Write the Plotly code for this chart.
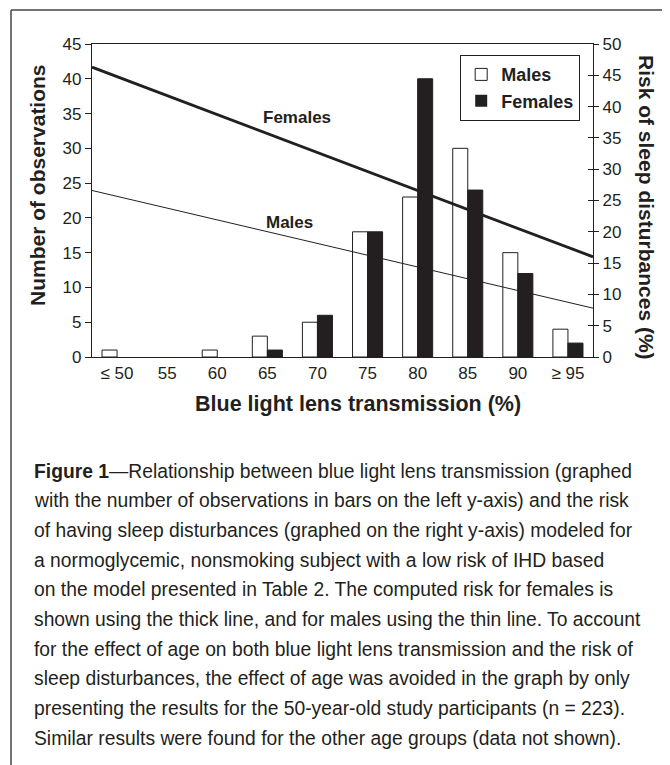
import plotly.graph_objects as go

# ---- data ----
transmission = [50, 55, 60, 65, 70, 75, 80, 85, 90, 95]
tick_labels = ["≤ 50", "55", "60", "65", "70", "75", "80", "85", "90", "≥ 95"]
males_obs = [1, 0, 1, 3, 5, 18, 23, 30, 15, 4]
females_obs = [0, 0, 0, 1, 6, 18, 40, 24, 12, 2]
risk_x = [47.5, 97.5]
risk_females = [46.3, 16.0]
risk_males = [26.6, 7.8]

caption_lines = [
    "<b>Figure 1</b>—Relationship between blue light lens transmission (graphed",
    "with the number of observations in bars on the left y-axis) and the risk",
    "of having sleep disturbances (graphed on the right y-axis) modeled for",
    "a normoglycemic, nonsmoking subject with a low risk of IHD based",
    "on the model presented in Table 2. The computed risk for females is",
    "shown using the thick line, and for males using the thin line. To account",
    "for the effect of age on both blue light lens transmission and the risk of",
    "sleep disturbances, the effect of age was avoided in the graph by only",
    "presenting the results for the 50-year-old study participants (n = 223).",
    "Similar results were found for the other age groups (data not shown).",
]

FONT = "Liberation Sans Narrow, Arial Narrow, Liberation Sans, Arial, sans-serif"
INK = "#231f20"

OFF = 8  # page body margin
W, H = 670 - OFF, 765 - OFF
L, R, T, B = 92, 593, 44, 357  # plot area in reference pixels


def xp(px):
    return (px - L) / (R - L)


def yp(py):
    return (B - py) / (B - T)


def edge_widths(vals):
    return [1 if v > 0 else 0 for v in vals]


fig = go.Figure()
fig.add_trace(go.Bar(x=transmission, y=males_obs, name="<b>Males</b>",
                     marker=dict(color="white", line=dict(color=INK, width=edge_widths(males_obs)))))
fig.add_trace(go.Bar(x=transmission, y=females_obs, name="<b>Females</b>",
                     marker=dict(color=INK, line=dict(color=INK, width=edge_widths(females_obs)))))
fig.add_trace(go.Scatter(x=risk_x, y=risk_females, yaxis="y2", mode="lines",
                         line=dict(color=INK, width=2.8), showlegend=False))
fig.add_trace(go.Scatter(x=risk_x, y=risk_males, yaxis="y2", mode="lines",
                         line=dict(color=INK, width=1), showlegend=False))
fig.add_trace(go.Scatter(x=[None], y=[None], yaxis="y3", showlegend=False))


def label(text, x, y, size, angle=0):
    return dict(text=text, x=xp(x), y=yp(y), xref="paper", yref="paper",
                xanchor="center", yanchor="middle", textangle=angle, showarrow=False,
                font=dict(size=size, family=FONT, color=INK))


ann = [
    label("<b>Females</b>", 297, 118, 17),
    label("<b>Males</b>", 289, 222, 17),
    label("<b>Number of observations</b>", 37, 185, 21, -90),
    label("<b>Risk of sleep disturbances (%)</b>", 647, 207, 21, 90),
    label("<b>Blue light lens transmission (%)</b>", 358, 404, 21.5),
]
y0 = 471
for i, line in enumerate(caption_lines):
    ann.append(dict(text=line, x=xp(32), y=yp(y0 + i * 29.7), xref="paper", yref="paper",
                    xanchor="left", yanchor="middle", showarrow=False,
                    font=dict(size=19.3, family=FONT, color=INK)))

shapes = [
    dict(type="line", xref="paper", yref="paper", x0=xp(11), x1=xp(680), y0=yp(10), y1=yp(10),
         line=dict(color="#444", width=1.5)),
    dict(type="line", xref="paper", yref="paper", x0=xp(11), x1=xp(11), y0=yp(10), y1=yp(780),
         line=dict(color="#444", width=1.5)),
]

fig.update_layout(
    width=W, height=H,
    margin=dict(l=L - OFF, r=670 - R, t=T - OFF, b=765 - B),
    paper_bgcolor="white", plot_bgcolor="white",
    barmode="group", bargap=0.4, bargroupgap=0,
    font=dict(family=FONT, color=INK),
    xaxis=dict(range=[47.5, 97.5], tickvals=transmission, ticktext=tick_labels,
               showgrid=False, zeroline=False, showline=True, linecolor=INK, linewidth=1.2,
               mirror=True, ticks="", tickfont=dict(size=17, family=FONT, color=INK)),
    yaxis=dict(range=[0, 45], dtick=5, showgrid=False, zeroline=False, showline=True,
               linecolor=INK, linewidth=1.2, ticks="outside", ticklen=6, tickcolor=INK,
               tickfont=dict(size=17, family=FONT, color=INK)),
    yaxis2=dict(range=[0, 50], dtick=5, overlaying="y", side="right", showgrid=False,
                zeroline=False, showline=True, linecolor=INK, linewidth=1.2,
                ticks="outside", ticklen=5, tickcolor=INK,
                tickfont=dict(size=17, family=FONT, color=INK)),
    yaxis3=dict(range=[0, 50], dtick=5, overlaying="y", side="right", showgrid=False,
                zeroline=False, showline=False, ticks="inside", ticklen=5, tickcolor=INK,
                showticklabels=False),
    legend=dict(x=xp(460), y=yp(55), xanchor="left", yanchor="top",
                bordercolor=INK, borderwidth=1.2, bgcolor="white",
                font=dict(size=18, family=FONT, color=INK), itemwidth=30),
    annotations=ann, shapes=shapes,
)

fig.write_html("out.html")
